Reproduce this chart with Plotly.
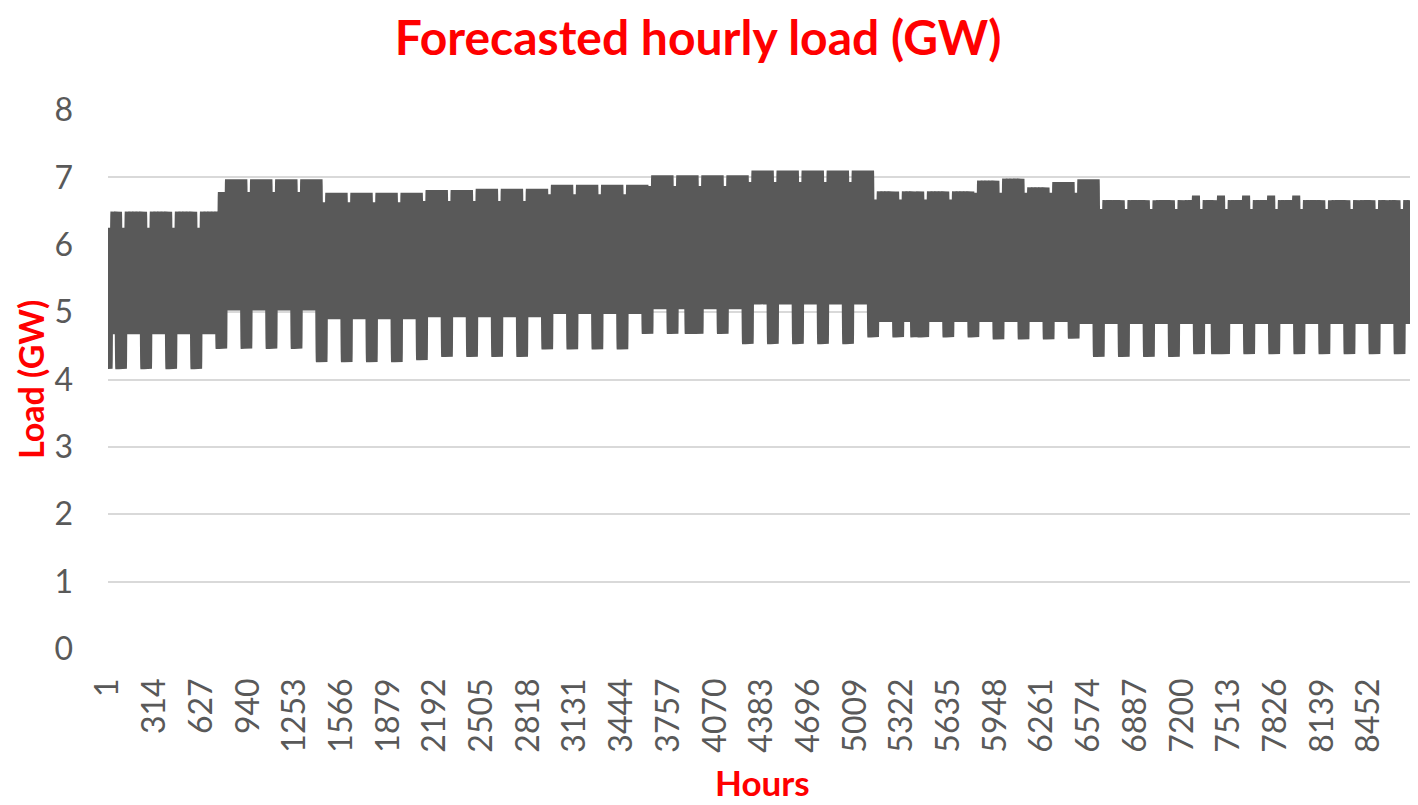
import numpy as np
import plotly.graph_objects as go

# ---------------- data ----------------
x_tick_labels = [1, 314, 627, 940, 1253, 1566, 1879, 2192, 2505, 2818, 3131, 3444,
                 3757, 4070, 4383, 4696, 5009, 5322, 5635, 5948, 6261, 6574, 6887,
                 7200, 7513, 7826, 8139, 8452]
y_tick_values = [0, 1, 2, 3, 4, 5, 6, 7, 8]

# weekly blocks (52): each block = 2 weekend days followed by 5 working days (GW)
weekday_peak = [6.49, 6.49, 6.49, 6.49, 6.97, 6.97, 6.97, 6.97, 6.77, 6.77, 6.77, 6.77,
                6.81, 6.81, 6.83, 6.83, 6.83, 6.89, 6.89, 6.89, 6.89, 7.03, 7.03, 7.03,
                7.03, 7.10, 7.10, 7.10, 7.10, 7.10, 6.79, 6.79, 6.79, 6.79, 6.95, 6.98,
                6.85, 6.93, 6.97, 6.66, 6.66, 6.66, 6.66, 6.66, 6.66, 6.66, 6.66, 6.66,
                6.66, 6.66, 6.66, 6.66]
weekday_low = [4.68, 4.68, 4.68, 4.68, 5.03, 5.03, 5.03, 5.03, 4.90, 4.90, 4.90, 4.90,
               4.93, 4.93, 4.93, 4.93, 4.93, 4.98, 4.98, 4.98, 4.98, 5.05, 5.05, 5.05,
               5.05, 5.12, 5.12, 5.12, 5.12, 5.12, 4.86, 4.86, 4.86, 4.86, 4.86, 4.86,
               4.86, 4.86, 4.83, 4.83, 4.83, 4.83, 4.83, 4.83, 4.83, 4.83, 4.83, 4.83,
               4.83, 4.83, 4.83, 4.83]
weekend_peak = [6.25, 6.25, 6.25, 6.25, 6.78, 6.78, 6.78, 6.78, 6.63, 6.63, 6.63, 6.63,
                6.65, 6.65, 6.65, 6.65, 6.65, 6.75, 6.75, 6.75, 6.75, 6.87, 6.87, 6.87,
                6.87, 6.93, 6.93, 6.93, 6.93, 6.93, 6.67, 6.67, 6.67, 6.67, 6.77, 6.77,
                6.77, 6.77, 6.77, 6.53, 6.53, 6.53, 6.53, 6.53, 6.53, 6.53, 6.53, 6.53,
                6.53, 6.53, 6.53, 6.53]
weekend_low = [4.16, 4.16, 4.16, 4.16, 4.46, 4.46, 4.46, 4.46, 4.26, 4.26, 4.26, 4.26,
               4.29, 4.34, 4.34, 4.34, 4.34, 4.45, 4.45, 4.45, 4.45, 4.68, 4.68, 4.68,
               4.68, 4.53, 4.53, 4.53, 4.53, 4.53, 4.63, 4.63, 4.63, 4.63, 4.63, 4.60,
               4.60, 4.60, 4.61, 4.34, 4.34, 4.34, 4.34, 4.38, 4.38, 4.38, 4.38, 4.38,
               4.38, 4.38, 4.38, 4.38]
# single higher days seen on the upper edge
spike_blocks = [42, 43, 44, 45, 46]
spike_peak = [6.73, 6.73, 6.73, 6.73, 6.73]
# low days outside weekends (day of year, 0-based)
holiday_days = [0, 162, 225, 309]
# shape of a day, 0 = daily minimum, 1 = daily maximum (hour 0..23)
daily_shape = [0.30, 0.16, 0.06, 0.01, 0.00, 0.06, 0.22, 0.45, 0.62, 0.70, 0.74, 0.76,
               0.75, 0.73, 0.72, 0.73, 0.78, 0.88, 0.97, 1.00, 0.95, 0.82, 0.62, 0.44]

# ---------------- build hourly series ----------------
n_days = 365
hours = np.arange(1, n_days * 24 + 1)
load = np.zeros(n_days * 24)
shape = np.array(daily_shape)
for d in range(n_days):
    if d < 3:
        k, pos = 0, 6
    else:
        k, pos = (d - 3) // 7, (d - 3) % 7
    k = min(k, 51)
    if pos in (0, 1) or d in holiday_days:
        lo, hi = weekend_low[k], weekend_peak[k]
    else:
        lo, hi = weekday_low[k], weekday_peak[k]
        if pos == 6 and k in spike_blocks:
            hi = spike_peak[spike_blocks.index(k)]
    load[d * 24:(d + 1) * 24] = lo + (hi - lo) * shape

# ---------------- figure ----------------
GRAY = "#595959"
RED = "#ff0000"
FONT = "Lato"
# the page body adds an 8px offset; the figure is sized so it ends at the window edge
OFF = 8
W, H = 1418 - OFF, 805 - OFF
L, R, T, B = 108 - OFF, 3, 110 - OFF, 805 - 649
PW, PH = W - L - R, H - T - B

fig = go.Figure()
fig.add_trace(go.Scatter(x=hours, y=load, mode="lines",
                         line=dict(color=GRAY, width=8, simplify=False),
                         hoverinfo="skip"))

fig.update_layout(
    width=W, height=H,
    margin=dict(l=L, r=R, t=T, b=B, autoexpand=False),
    paper_bgcolor="white", plot_bgcolor="white",
    showlegend=False,
    font=dict(family=FONT, color=GRAY),
    title=dict(text="Forecasted hourly load (GW)", x=(698 - OFF) / W, xanchor="center",
               y=1 - (38 - OFF) / H, yanchor="middle", yref="container",
               font=dict(family=FONT, size=48, color=RED, weight="bold")),
)
fig.update_xaxes(
    range=[1, n_days * 24],
    tickmode="array", tickvals=x_tick_labels, ticktext=[str(v) for v in x_tick_labels],
    tickangle=-90, tickfont=dict(size=32, color=GRAY, family=FONT),
    showgrid=False, zeroline=False, showline=False, ticks="",
    ticklabelstandoff=22, automargin=False,
)
fig.update_yaxes(
    range=[0, 8], tickmode="array", tickvals=y_tick_values,
    tickfont=dict(size=32, color=GRAY, family=FONT),
    showgrid=True, gridcolor="#d9d9d9", gridwidth=2,
    zeroline=False, showline=False, ticks="", ticklabelstandoff=34, automargin=False,
)
fig.add_annotation(text="Load (GW)", xref="paper", yref="paper",
                   x=-(108 - 30) / PW, y=(649 - 380) / PH, textangle=-90,
                   showarrow=False, xanchor="center", yanchor="middle",
                   font=dict(family=FONT, size=34, color=RED, weight="bold"))
fig.add_annotation(text="Hours", xref="paper", yref="paper",
                   x=(762 - 108) / PW, y=-(782 - 649) / PH,
                   showarrow=False, xanchor="center", yanchor="middle",
                   font=dict(family=FONT, size=35, color=RED, weight="bold"))

fig.write_html("out.html")
